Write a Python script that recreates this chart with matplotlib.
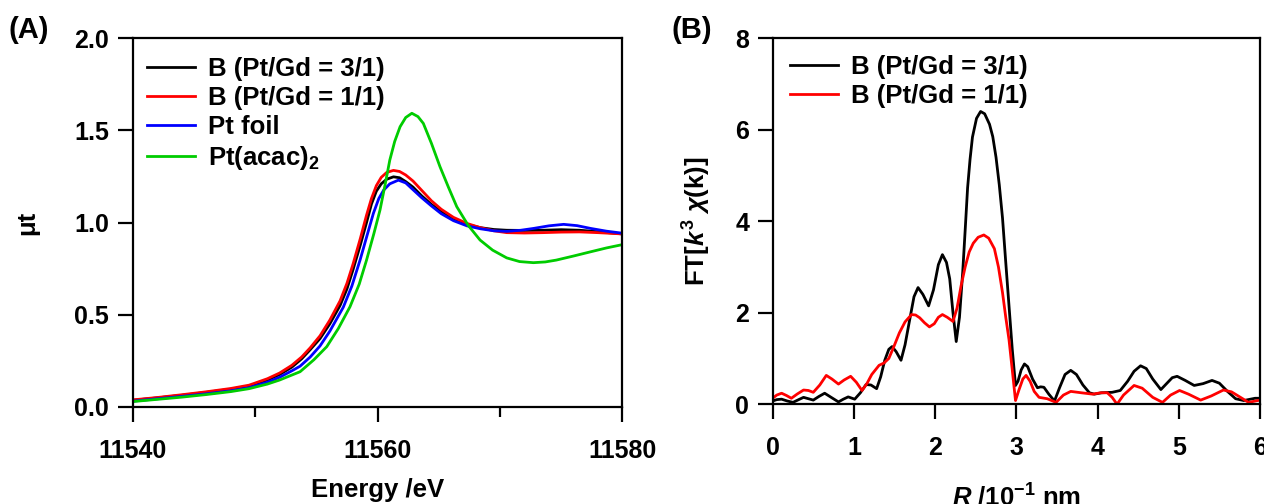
import matplotlib
matplotlib.use("Agg")
import matplotlib.pyplot as plt
from matplotlib.ticker import MultipleLocator, FormatStrFormatter

plt.rcParams['font.family'] = ['Liberation Sans', 'DejaVu Sans']
plt.rcParams['font.weight'] = 'bold'
plt.rcParams['mathtext.fontset'] = 'custom'
plt.rcParams['mathtext.rm'] = 'Liberation Sans:bold'
plt.rcParams['mathtext.bf'] = 'Liberation Sans:bold'
plt.rcParams['mathtext.it'] = 'Liberation Sans:italic:bold'

# ---------------- Panel A data (XANES) ----------------
E_b31 = [11540, 11542, 11544, 11546, 11548, 11549.5, 11551, 11552, 11553, 11553.8,
         11554.5, 11555.3, 11556.1, 11556.94, 11557.5, 11558.0, 11558.6, 11559.1, 11559.5,
         11559.9, 11560.3, 11560.75, 11561.3, 11561.8, 11562.3, 11562.9, 11563.6, 11564.4,
         11565.2, 11566.2, 11567.3, 11568.4, 11569.5, 11570.55, 11572, 11573.5, 11575,
         11576.5, 11578, 11580]
mu_b31 = [0.035, 0.048, 0.062, 0.078, 0.095, 0.112, 0.145, 0.175, 0.215, 0.26,
          0.31, 0.37, 0.45, 0.55, 0.64, 0.745, 0.88, 1.0, 1.1,
          1.17, 1.21, 1.235, 1.248, 1.243, 1.222, 1.192, 1.145, 1.098,
          1.06, 1.018, 0.99, 0.972, 0.962, 0.958, 0.957, 0.958, 0.961,
          0.958, 0.95, 0.938]

E_b11 = E_b31
mu_b11 = [0.037, 0.05, 0.065, 0.081, 0.099, 0.117, 0.152, 0.183, 0.225, 0.27,
          0.32, 0.385, 0.47, 0.575, 0.67, 0.775, 0.915, 1.04, 1.13,
          1.2, 1.245, 1.272, 1.283, 1.277, 1.258, 1.225, 1.175, 1.118,
          1.072, 1.028, 0.995, 0.972, 0.955, 0.945, 0.943, 0.945, 0.948,
          0.949, 0.945, 0.938]

E_foil = [11540, 11542, 11544, 11546, 11548, 11549.5, 11551, 11552, 11553, 11553.67,
          11554.5, 11555.3, 11556.1, 11557.2, 11557.9, 11558.57, 11559.1, 11559.66, 11560.1,
          11560.5, 11561.0, 11561.7, 11562.3, 11562.9, 11563.6, 11564.4, 11565.2, 11566.2,
          11567.3, 11568.4, 11569.5, 11570.55, 11571.7, 11572.75, 11574, 11575.2, 11576.3,
          11577.4, 11578.7, 11580]
mu_foil = [0.03, 0.043, 0.056, 0.07, 0.086, 0.103, 0.133, 0.16, 0.195, 0.22,
           0.27, 0.33, 0.41, 0.54, 0.655, 0.796, 0.92, 1.05, 1.13,
           1.176, 1.21, 1.23, 1.215, 1.178, 1.135, 1.09, 1.048, 1.01,
           0.982, 0.966, 0.955, 0.952, 0.958, 0.968, 0.982, 0.99, 0.983,
           0.968, 0.953, 0.942]

E_acac = [11540, 11542, 11544, 11546, 11548, 11549.5, 11551, 11552, 11553, 11553.67,
          11554.8, 11555.85, 11556.8, 11557.75, 11558.5, 11559.1, 11559.7, 11560.2, 11560.6,
          11561.0, 11561.4, 11561.84, 11562.3, 11562.8, 11563.3, 11563.74, 11564.4, 11565.1,
          11565.8, 11566.47, 11567.4, 11568.37, 11569.4, 11570.55, 11571.6, 11572.73, 11573.7,
          11574.6, 11576, 11577.4, 11578.7, 11580]
mu_acac = [0.028, 0.04, 0.052, 0.066, 0.082, 0.098, 0.123, 0.145, 0.172, 0.19,
           0.255, 0.326, 0.425, 0.543, 0.665, 0.796, 0.94, 1.068, 1.2,
           1.339, 1.44, 1.52, 1.57, 1.593, 1.575, 1.538, 1.43, 1.303,
           1.19, 1.086, 0.985, 0.905, 0.85, 0.808, 0.788, 0.782, 0.786,
           0.796, 0.818, 0.841, 0.862, 0.88]

# ---------------- Panel B data (FT-EXAFS) ----------------
R_b31 = [0, 0.05, 0.11, 0.18, 0.25, 0.32, 0.38, 0.44, 0.5, 0.57, 0.64, 0.72, 0.81,
         0.87, 0.93, 1.01, 1.08, 1.15, 1.21, 1.28, 1.33, 1.38, 1.43, 1.47, 1.52, 1.58,
         1.63, 1.68, 1.74, 1.79, 1.85, 1.92, 1.98, 2.04, 2.09, 2.14, 2.18, 2.22, 2.26,
         2.30, 2.34, 2.37, 2.40, 2.43, 2.46, 2.51, 2.56, 2.61, 2.67, 2.71, 2.75, 2.79,
         2.83, 2.87, 2.91, 2.95, 2.99, 3.02, 3.06, 3.10, 3.14, 3.20, 3.26, 3.30, 3.34,
         3.40, 3.47, 3.53, 3.60, 3.67, 3.74, 3.82, 3.90, 3.96, 4.05, 4.18, 4.28, 4.37,
         4.45, 4.53, 4.60, 4.68, 4.78, 4.85, 4.92, 4.98, 5.08, 5.19, 5.30, 5.41, 5.50,
         5.60, 5.70, 5.80, 5.94, 6.0]
ft_b31 = [0.07, 0.1, 0.11, 0.07, 0.04, 0.1, 0.15, 0.12, 0.09, 0.17, 0.24, 0.15, 0.05,
          0.11, 0.16, 0.11, 0.25, 0.43, 0.42, 0.34, 0.6, 0.96, 1.2, 1.26, 1.15, 0.96,
          1.3, 1.78, 2.35, 2.55, 2.4, 2.15, 2.5, 3.05, 3.27, 3.1, 2.74, 2.0, 1.37,
          1.9, 2.89, 3.8, 4.73, 5.35, 5.84, 6.25, 6.4, 6.35, 6.12, 5.85, 5.40, 4.8,
          4.07, 3.1, 2.15, 1.2, 0.41, 0.5, 0.75, 0.88, 0.82, 0.55, 0.36, 0.38, 0.37,
          0.22, 0.07, 0.35, 0.65, 0.74, 0.65, 0.42, 0.25, 0.22, 0.25, 0.26, 0.3, 0.5,
          0.72, 0.84, 0.78, 0.55, 0.32, 0.45, 0.58, 0.61, 0.52, 0.41, 0.45, 0.52, 0.46,
          0.28, 0.12, 0.08, 0.13, 0.13]

R_b11 = [0, 0.05, 0.11, 0.17, 0.23, 0.30, 0.38, 0.44, 0.5, 0.58, 0.66, 0.73, 0.81,
         0.88, 0.96, 1.03, 1.10, 1.16, 1.22, 1.31, 1.37, 1.43, 1.49, 1.56, 1.63, 1.71,
         1.76, 1.81, 1.87, 1.93, 1.99, 2.04, 2.09, 2.15, 2.22, 2.27, 2.32, 2.37, 2.42,
         2.47, 2.53, 2.60, 2.66, 2.73, 2.78, 2.83, 2.87, 2.91, 2.95, 2.99, 3.03, 3.08,
         3.12, 3.17, 3.22, 3.28, 3.38, 3.49, 3.58, 3.67, 3.80, 3.94, 4.04, 4.12, 4.18,
         4.24, 4.32, 4.45, 4.55, 4.68, 4.80, 4.90, 5.01, 5.12, 5.27, 5.40, 5.55, 5.65,
         5.76, 5.86, 6.0]
ft_b11 = [0.13, 0.2, 0.24, 0.19, 0.13, 0.22, 0.31, 0.3, 0.26, 0.42, 0.63, 0.55, 0.44,
          0.53, 0.61, 0.48, 0.3, 0.45, 0.65, 0.85, 0.9, 1.0, 1.25, 1.56, 1.8, 1.96,
          1.95, 1.89, 1.78, 1.69, 1.76, 1.9, 1.96, 1.9, 1.81, 2.1, 2.59, 3.0, 3.33,
          3.52, 3.65, 3.70, 3.63, 3.40, 3.0, 2.44, 1.9, 1.41, 0.75, 0.08, 0.3, 0.55,
          0.63, 0.5, 0.28, 0.15, 0.12, 0.04, 0.2, 0.28, 0.25, 0.22, 0.25, 0.25, 0.15,
          0.0, 0.2, 0.41, 0.35, 0.15, 0.04, 0.2, 0.3, 0.22, 0.09, 0.18, 0.31, 0.27,
          0.15, 0.04, 0.09]

labels_A = ['B (Pt/Gd = 3/1)', 'B (Pt/Gd = 1/1)', 'Pt foil', 'Pt(acac)$_2$']
labels_B = ['B (Pt/Gd = 3/1)', 'B (Pt/Gd = 1/1)']
colors = ['#000000', '#ff0000', '#0000ff', '#00cc00']

FS = 18
LFS = 18.5
LW = 2.0

fig = plt.figure(figsize=(12.64, 5.04), dpi=100)
axA = fig.add_axes([0.105, 0.193, 0.3874, 0.731])
axB = fig.add_axes([0.6113, 0.198, 0.3855, 0.726])

for x, y, lab, c in zip([E_b31, E_b11, E_foil, E_acac], [mu_b31, mu_b11, mu_foil, mu_acac],
                        labels_A, colors):
    axA.plot(x, y, color=c, lw=LW, label=lab, solid_joinstyle='round')

axA.set_xlim(11540, 11580)
axA.set_ylim(0, 2.0)
axA.xaxis.set_major_locator(MultipleLocator(20))
axA.xaxis.set_minor_locator(MultipleLocator(10))
axA.yaxis.set_major_locator(MultipleLocator(0.5))
axA.yaxis.set_major_formatter(FormatStrFormatter('%.1f'))
axA.set_xlabel('Energy /eV', fontsize=LFS, fontweight='bold', labelpad=11)
axA.set_ylabel('μt', fontsize=LFS, fontweight='bold', labelpad=25)

axB.plot(R_b31, ft_b31, color=colors[0], lw=LW, label=labels_B[0], solid_joinstyle='round')
axB.plot(R_b11, ft_b11, color=colors[1], lw=LW, label=labels_B[1], solid_joinstyle='round')
axB.set_xlim(0, 6)
axB.set_ylim(0, 8)
axB.xaxis.set_major_locator(MultipleLocator(1))
axB.yaxis.set_major_locator(MultipleLocator(2))
axB.set_xlabel('$\\mathit{R}$ /10$^{-1}$ nm', fontsize=LFS, fontweight='bold', labelpad=17)
axB.set_ylabel('FT[$\\mathit{k}^{3}$ $\\chi$(k)]', fontsize=LFS, fontweight='bold', labelpad=16)

for ax in (axA, axB):
    for s in ax.spines.values():
        s.set_linewidth(1.6)
    ax.tick_params(which='major', direction='out', length=11, width=1.6,
                   labelsize=FS, top=False, right=False)
    ax.tick_params(axis='x', which='major', pad=12)
    ax.tick_params(axis='y', which='major', pad=6)
    ax.tick_params(which='minor', direction='out', length=7, width=1.6,
                   top=False, right=False)
    for t in ax.get_xticklabels() + ax.get_yticklabels():
        t.set_fontweight('bold')

legA = axA.legend(loc='upper left', bbox_to_anchor=(0.008, 0.978), frameon=False,
                  fontsize=LFS, handlelength=1.87, handletextpad=0.5, labelspacing=0.2,
                  borderaxespad=0.0)
legB = axB.legend(loc='upper left', bbox_to_anchor=(0.014, 0.982), frameon=False,
                  fontsize=LFS, handlelength=1.87, handletextpad=0.5, labelspacing=0.2,
                  borderaxespad=0.0)
for leg in (legA, legB):
    for t in leg.get_texts():
        t.set_fontweight('bold')

fig.text(8 / 1264, 1 - 30 / 504, '(A)', fontsize=21, fontweight='bold', ha='left', va='center')
fig.text(672 / 1264, 1 - 30 / 504, '(B)', fontsize=21, fontweight='bold', ha='left', va='center')

fig.savefig('out.png', dpi=100)
